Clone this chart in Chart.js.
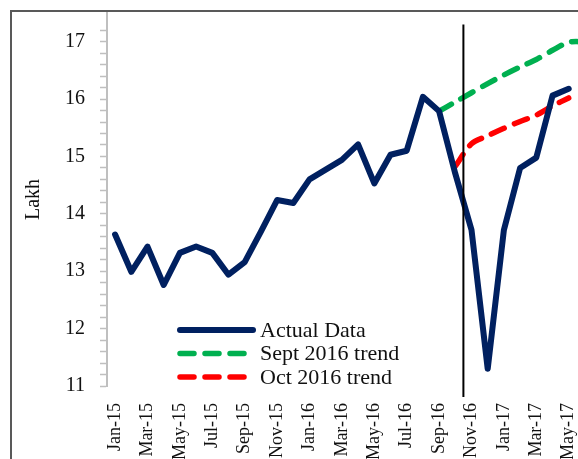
<!DOCTYPE html>
<html>
<head>
<meta charset="utf-8">
<script src="https://cdn.jsdelivr.net/npm/chart.js@4.4.1/dist/chart.umd.min.js"></script>
<style>
    html, body { margin: 0; padding: 0; background: #fff; overflow: hidden; width: 578px; height: 459px; }
    #frame { position: absolute; left: 10px; top: 10px; width: 640px; height: 500px; border: 2px solid #595959; }
    #box { position: absolute; left: 0; top: 0; width: 600px; height: 459px; }
</style>
</head>
<body>
<div id="frame"></div>
<div id="box"><canvas id="chart"></canvas></div>
<script>
// Monthly categories (Jun-17 is past the right edge of the picture)
const months = [
    'Jan-15', 'Feb-15', 'Mar-15', 'Apr-15', 'May-15', 'Jun-15', 'Jul-15', 'Aug-15', 'Sep-15', 'Oct-15', 'Nov-15', 'Dec-15',
    'Jan-16', 'Feb-16', 'Mar-16', 'Apr-16', 'May-16', 'Jun-16', 'Jul-16', 'Aug-16', 'Sep-16', 'Oct-16', 'Nov-16', 'Dec-16',
    'Jan-17', 'Feb-17', 'Mar-17', 'Apr-17', 'May-17', 'Jun-17'
];

// Values in lakh
const actualData = [
    13.64, 12.99, 13.43, 12.76, 13.32, 13.43, 13.32, 12.94, 13.16, 13.69, 14.24, 14.19,
    14.60, 14.77, 14.94, 15.21, 14.53, 15.03, 15.10, 16.04, 15.79, 14.70, 13.72, 11.30,
    13.72, 14.80, 14.98, 16.06, 16.18, null
];
const septTrend = [
    null, null, null, null, null, null, null, null, null, null, null, null,
    null, null, null, null, null, null, null, null, 15.79, 15.95, 16.11, 16.27,
    16.42, 16.56, 16.69, 16.85, 16.99, 17.00
];
const octTrend = [
    null, null, null, null, null, null, null, null, null, null, null, null,
    null, null, null, null, null, null, null, null, null, 14.83, 15.22, 15.36,
    15.49, 15.61, 15.72, 15.88, 16.02, null
];

const seriesNames = ['Actual Data', 'Sept 2016 trend', 'Oct 2016 trend'];
const seriesColors = ['#002060', '#00B050', '#FF0000'];

// Y axis range and the demonetisation marker (between Oct-16 and Nov-16)
const yMin = 11;
const yMax = 17.5;
const markerIndex = 21.5;
const markerRange = [17.3, 10.81];

const serif = 'Liberation Serif, Times New Roman, serif';

/**
 * Legend drawn inside the plot area, lower left
 */
const insideLegend = {
    id: 'insideLegend',
    afterDraw(chart) {
        const ctx = chart.ctx;
        ctx.save();
        chart.data.datasets.forEach((ds, i) => {
            const y = 330 + i * 23.5;
            ctx.beginPath();
            ctx.strokeStyle = ds.borderColor;
            ctx.lineWidth = ds.borderWidth;
            ctx.lineCap = 'round';
            ctx.setLineDash(ds.borderDash || []);
            ctx.moveTo(180, y);
            ctx.lineTo(253, y);
            ctx.stroke();
            ctx.setLineDash([]);
            ctx.fillStyle = '#111';
            ctx.font = '22px ' + serif;
            ctx.textBaseline = 'middle';
            ctx.textAlign = 'left';
            ctx.fillText(ds.label, 260, y + 1);
        });
        ctx.restore();
    }
};

/**
 * Vertical black marker line
 */
const markerLine = {
    id: 'markerLine',
    afterDatasetsDraw(chart) {
        const { ctx, scales: { x, y } } = chart;
        const px = x.getPixelForValue(markerIndex);
        ctx.save();
        ctx.beginPath();
        ctx.strokeStyle = '#000';
        ctx.lineWidth = 2;
        ctx.moveTo(px, y.getPixelForValue(markerRange[0]));
        ctx.lineTo(px, y.getPixelForValue(markerRange[1]));
        ctx.stroke();
        ctx.restore();
    }
};

const lineStyle = {
    pointRadius: 0,
    borderCapStyle: 'round',
    borderJoinStyle: 'round',
    spanGaps: false
};

new Chart(document.getElementById('chart'), {
    type: 'line',
    data: {
        labels: months,
        datasets: [
            { ...lineStyle, label: seriesNames[0], data: actualData, borderColor: seriesColors[0], borderWidth: 6, tension: 0 },
            { ...lineStyle, label: seriesNames[1], data: septTrend, borderColor: seriesColors[1], borderWidth: 5.5, borderDash: [14, 11], tension: 0.3 },
            { ...lineStyle, label: seriesNames[2], data: octTrend, borderColor: seriesColors[2], borderWidth: 5.5, borderDash: [14, 11], tension: 0.3 }
        ]
    },
    options: {
        responsive: true,
        maintainAspectRatio: false,
        animation: false,
        layout: { padding: { top: 13, right: 7, left: 0, bottom: 0 } },
        plugins: {
            legend: { display: false },
            tooltip: { enabled: false }
        },
        scales: {
            x: {
                offset: true,
                grid: { display: false, drawTicks: false },
                border: { display: false },
                ticks: {
                    autoSkip: false,
                    maxRotation: 90,
                    minRotation: 90,
                    padding: 17,
                    color: '#111',
                    font: { family: serif, size: 18 },
                    callback: (value, index) => (index % 2 === 0 ? months[index] : '')
                },
                afterFit: (scale) => {
                    scale.height = 73;
                    scale.paddingLeft = 0;
                    scale.paddingRight = 0;
                }
            },
            y: {
                min: yMin,
                max: yMax,
                grid: {
                    drawOnChartArea: false,
                    drawTicks: true,
                    tickLength: 7,
                    tickWidth: 1.5,
                    tickColor: (c) => (c.tick && c.tick.value > 17.45 ? 'rgba(0,0,0,0)' : '#BFBFBF')
                },
                border: { display: true, color: '#BFBFBF', width: 2 },
                ticks: {
                    stepSize: 0.2,
                    autoSkip: false,
                    maxTicksLimit: 100,
                    padding: 15,
                    color: '#111',
                    font: { family: serif, size: 20 },
                    callback: (v) => (Math.abs(v - Math.round(v)) < 1e-6 ? String(Math.round(v)) : '')
                },
                title: {
                    display: true,
                    text: 'Lakh',
                    color: '#111',
                    font: { family: serif, size: 20 },
                    padding: { top: 22, bottom: 0 }
                },
                afterFit: (scale) => {
                    scale.width = 107;
                    scale.paddingTop = 0;
                    scale.paddingBottom = 0;
                }
            }
        }
    },
    plugins: [markerLine, insideLegend]
});
</script>
</body>
</html>
